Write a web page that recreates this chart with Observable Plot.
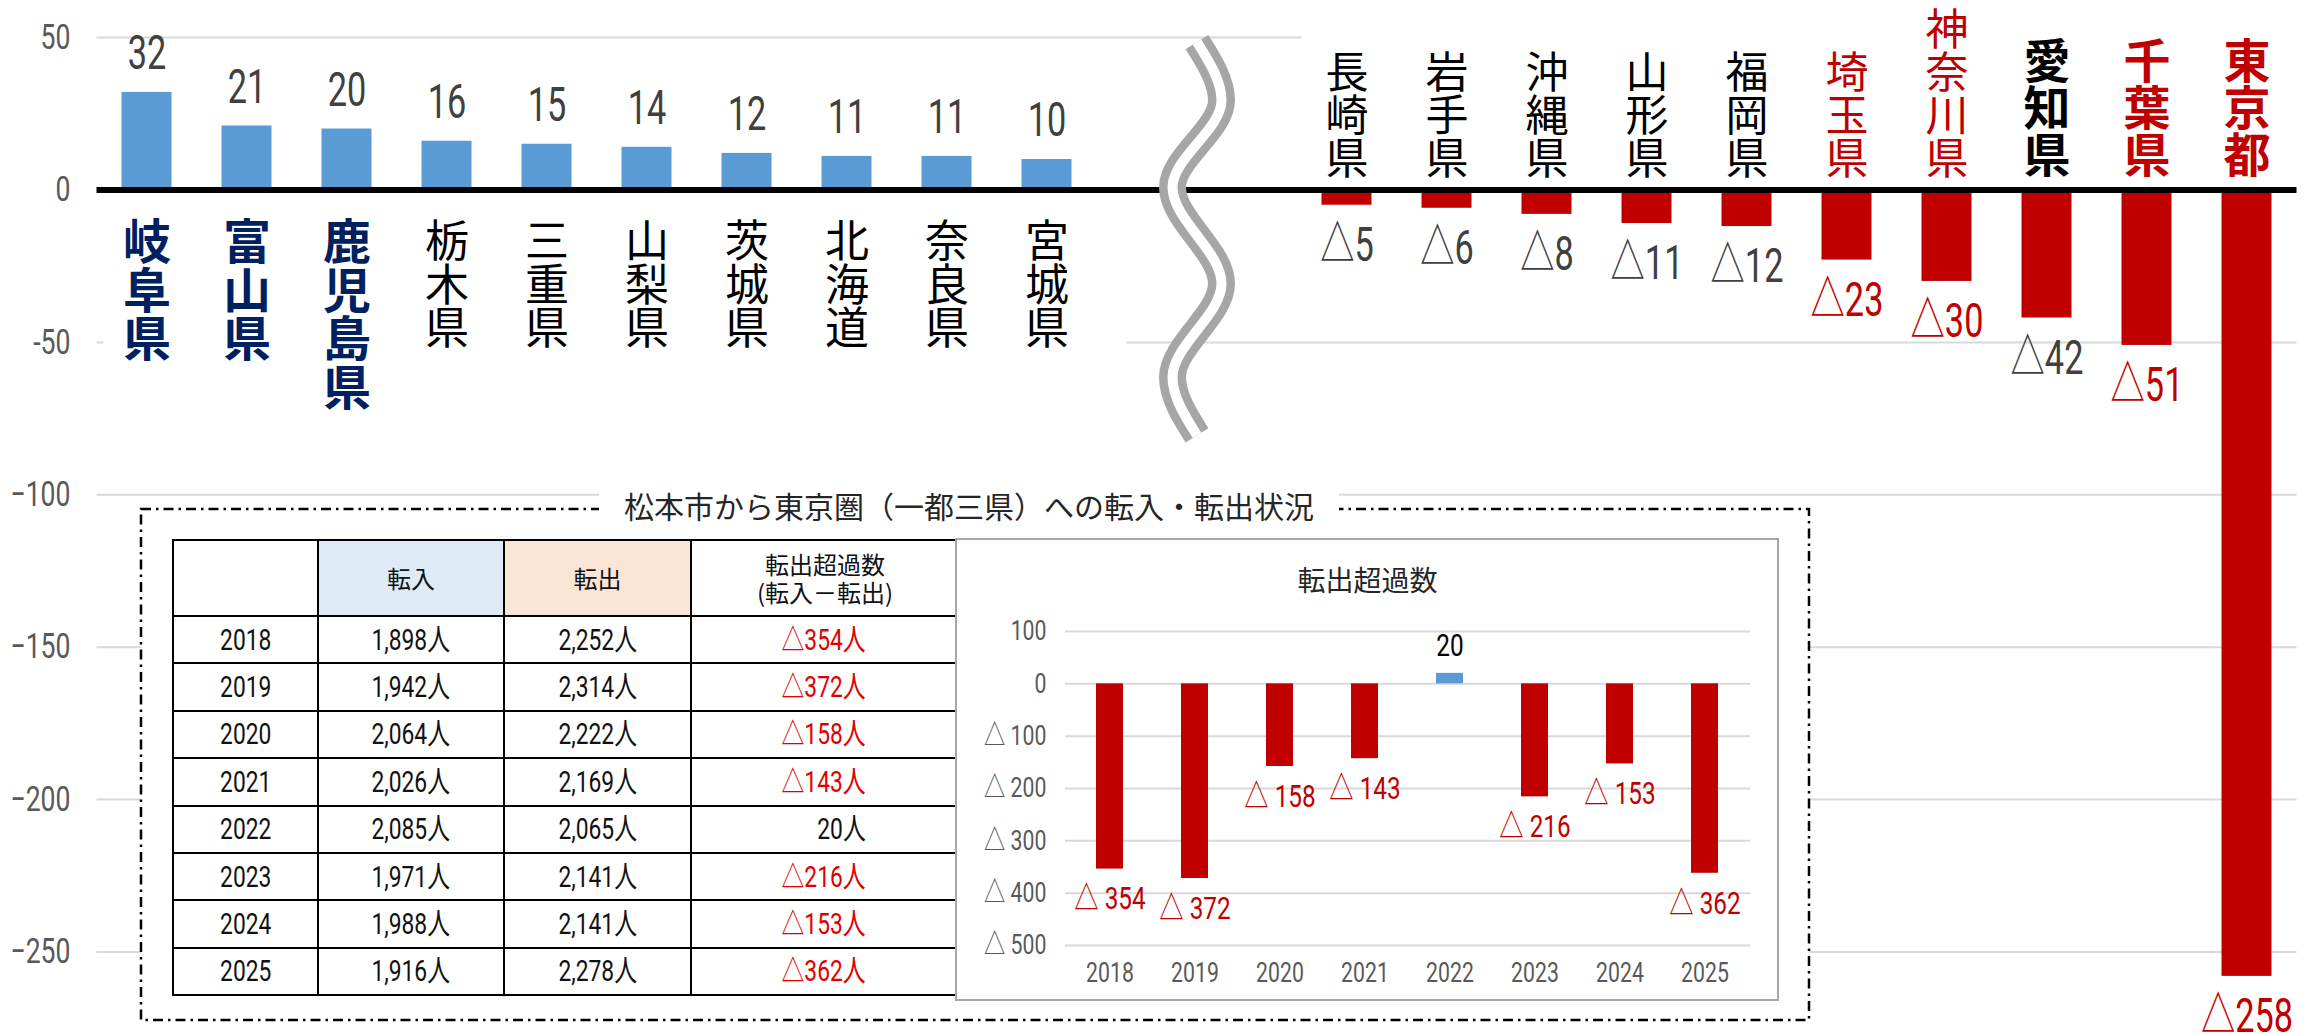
<!DOCTYPE html>
<html><head><meta charset="utf-8">
<script src="https://cdn.jsdelivr.net/npm/d3@7"></script>
<script src="https://cdn.jsdelivr.net/npm/@observablehq/plot@0.6"></script>
<style>
body{margin:0;background:#fff;}
#wrap{position:relative;width:2320px;height:1034px;overflow:hidden;font-family:"Noto Sans CJK JP",sans-serif;}
#wrap > *{position:absolute;}
#main{left:0;top:0;}
#box{left:139px;top:506.5px;}
#title{left:599px;top:485px;width:740px;height:40px;line-height:40px;background:#fff;text-align:center;font-size:30px;color:#262626;white-space:nowrap;}
#tbl{left:172px;top:539px;border-collapse:collapse;table-layout:fixed;width:786px;}
#tbl td,#tbl th{border:2.5px solid #000;padding:0;text-align:center;font-weight:normal;color:#111;white-space:nowrap;}
#tbl th{font-size:24px;line-height:28px;font-family:"Noto Sans CJK JP",sans-serif;}
#tbl td{font-size:30px;line-height:30px;font-family:Roboto,"Noto Sans CJK JP",sans-serif;}
#tbl td span{display:inline-block;transform:scaleX(0.76);transform-origin:50% 50%;}
#tbl td.net span{transform-origin:100% 50%;}
#tbl tr.h{height:76px;}
#tbl tr.r{height:47.4px;}
#tbl th.in{background:#deebf7;}
#tbl th.out{background:#fbe5d6;}
#tbl td.net{text-align:right;padding-right:92px;}
#inset{left:956px;top:539px;}
</style></head><body><div id="wrap"></div>
<script>
// ---- main chart data ----
const leftPrefs = ["岐阜県","富山県","鹿児島県","栃木県","三重県","山梨県","茨城県","北海道","奈良県","宮城県"];
const leftValues = [32,21,20,16,15,14,12,11,11,10];
const rightPrefs = ["長崎県","岩手県","沖縄県","山形県","福岡県","埼玉県","神奈川県","愛知県","千葉県","東京都"];
const rightValues = [-5,-6,-8,-11,-12,-23,-30,-42,-51,-258];
const yTicks = [50,0,-50,-100,-150,-200,-250];
const highlightLeft = ["岐阜県","富山県","鹿児島県"];
const tokyoArea = ["埼玉県","神奈川県","千葉県","東京都"];
const boldRight = ["愛知県","千葉県","東京都"];

// ---- inset data ----
const insetTitle = "松本市から東京圏（一都三県）への転入・転出状況";
const insetChartTitle = "転出超過数";
const years = ["2018","2019","2020","2021","2022","2023","2024","2025"];
const inflow = [1898,1942,2064,2026,2085,1971,1988,1916];
const outflow = [2252,2314,2222,2169,2065,2141,2141,2278];
const netOutflow = [-354,-372,-158,-143,20,-216,-153,-362];
const insetTicks = [100,0,-100,-200,-300,-400,-500];

const NUM = 'Roboto,"Noto Sans CJK JP",sans-serif';
const CJK = '"Noto Sans CJK JP",sans-serif';
const BLUE = "#5b9bd5", RED = "#c00000", GRAY = "#404040";

const wrap = document.getElementById("wrap");

const leftData = leftPrefs.map((p, i) => ({pref: p, value: leftValues[i], pos: i}));
const rightData = rightPrefs.map((p, i) => ({pref: p, value: rightValues[i], pos: i + 12}));
const allData = leftData.concat(rightData);
const vert = d => d.pref.split("").join("\n");

// horizontal squeeze of number texts (condensed look)
function squeeze(svg, selector, sx) {
  svg.querySelectorAll(selector).forEach(t => {
    const tr = t.getAttribute("transform") || "";
    t.setAttribute("transform", tr + ` scale(${sx},1)`);
  });
}

// break symbol (decorative wavy double line between the two groups)
const breakWave = [
  {o: 0, v: 48.5}, {o: 0.245, v: 29.4}, {o: -0.245, v: 0.9},
  {o: 0.245, v: -30.7}, {o: -0.245, v: -61.4}, {o: 0, v: -80.5}
];

const yFmt = v => v === 0 ? "0" : v === 50 ? "50" : v === -50 ? "-50" : "−" + Math.abs(v);

const main = Plot.plot({
  width: 2320, height: 1034,
  marginLeft: 96.5, marginRight: 23.5, marginTop: 6.6, marginBottom: 6.3,
  x: {domain: [-0.5, 21.5], axis: null},
  y: {domain: [-275, 60], axis: null},
  style: {background: "#fff", overflow: "visible"},
  marks: [
    Plot.ruleY(yTicks.filter(v => v !== 0), {stroke: "#d9d9d9", strokeWidth: 2}),
    // white text-box backings of the category labels
    Plot.rect([{a: -0.43, b: 9.8, c: -25, d: -80}, {a: 11.55, b: 21.6, c: 44, d: 56}],
      {x1: "a", x2: "b", y1: "c", y2: "d", fill: "#fff"}),
    Plot.rect(allData, {x1: d => d.pos - 0.25, x2: d => d.pos + 0.25, y1: d => 0, y2: "value",
      fill: d => d.value >= 0 ? BLUE : RED}),
    Plot.ruleY([0], {stroke: "#000", strokeWidth: 6}),
    Plot.line(breakWave, {x: d => 10.5 + d.o, y: "v", stroke: "#a6a6a6", strokeWidth: 27, curve: "monotone-y", strokeLinecap: "butt"}),
    Plot.line(breakWave, {x: d => 10.5 + d.o, y: "v", stroke: "#fff", strokeWidth: 10, curve: "monotone-y", strokeLinecap: "butt"}),
    Plot.axisY({ticks: yTicks, tickSize: 0, tickPadding: 26.5, tickFormat: yFmt, fontSize: 35,
      fontFamily: NUM, fill: "#595959", color: "#595959", className: "sqa"}),
    // value labels
    Plot.text(leftData, {x: "pos", y: "value", text: d => String(d.value), dy: -39,
      fontSize: 49, fontFamily: NUM, fill: GRAY, className: "sqv"}),
    Plot.text(rightData, {x: "pos", y: "value", text: d => "△" + (-d.value), dy: 40,
      fontSize: 49, fontFamily: NUM, fill: d => tokyoArea.includes(d.pref) ? RED : GRAY, className: "sqv"}),
    // category labels (vertical)
    Plot.text(leftData.filter(d => highlightLeft.includes(d.pref)), {x: "pos", y: d => 0, text: vert,
      lineAnchor: "top", lineHeight: 1.01, dy: 35, fontSize: 48, fontWeight: "bold", fontFamily: CJK, fill: "#002060"}),
    Plot.text(leftData.filter(d => !highlightLeft.includes(d.pref)), {x: "pos", y: d => 0, text: vert,
      lineAnchor: "top", lineHeight: 0.99, dy: 36.3, fontSize: 44, fontFamily: CJK, fill: "#000"}),
    Plot.text(rightData.filter(d => !boldRight.includes(d.pref)), {x: "pos", y: d => 0, text: vert,
      lineAnchor: "bottom", lineHeight: 1.0, dy: -15.7, fontSize: 43, fontFamily: CJK,
      fill: d => tokyoArea.includes(d.pref) ? RED : "#000"}),
    Plot.text(rightData.filter(d => boldRight.includes(d.pref)), {x: "pos", y: d => 0, text: vert,
      lineAnchor: "bottom", lineHeight: 1.0, dy: -17.5, fontSize: 47, fontWeight: "bold", fontFamily: CJK,
      fill: d => tokyoArea.includes(d.pref) ? RED : "#000"})
  ]
});
squeeze(main, "g.sqv text", 0.7);
squeeze(main, 'g.sqa text, g[aria-label="y-axis tick label"] text', 0.76);
main.id = "main";
wrap.appendChild(main);

// dash-dot framed box
const box = Plot.plot({
  width: 1671, height: 514, margin: 0,
  x: {domain: [0, 1], axis: null}, y: {domain: [0, 1], axis: null},
  style: {background: "transparent", overflow: "visible"},
  marks: [Plot.frame({fill: "#fff", stroke: "#000", strokeWidth: 2.5, strokeDasharray: "10,5,2.5,5", inset: 1.5})]
});
box.id = "box";
wrap.appendChild(box);

const title = document.createElement("div");
title.id = "title";
title.textContent = insetTitle;
wrap.appendChild(title);

// table
const fmt = d3.format(",");
const netFmt = v => (v < 0 ? "△" + (-v) : String(v)) + "人";
const tbl = d3.select(wrap).append("table").attr("id", "tbl");
const cg = tbl.append("colgroup");
[145, 186, 187, 268].forEach(w => cg.append("col").style("width", w + "px"));
const hr = tbl.append("tr").attr("class", "h");
hr.append("th");
hr.append("th").attr("class", "in").text("転入");
hr.append("th").attr("class", "out").text("転出");
hr.append("th").html("転出超過数<br>(転入－転出)");
years.forEach((y, i) => {
  const r = tbl.append("tr").attr("class", "r");
  r.append("td").append("span").text(y);
  r.append("td").append("span").text(fmt(inflow[i]) + "人");
  r.append("td").append("span").text(fmt(outflow[i]) + "人");
  r.append("td").attr("class", "net").style("color", netOutflow[i] < 0 ? "#e00000" : "#111")
    .append("span").text(netFmt(netOutflow[i]));
});

// inset bar chart
const insetData = years.map((y, i) => ({year: y, net: netOutflow[i]}));
const inset = Plot.plot({
  width: 822, height: 461,
  marginLeft: 109, marginRight: 28, marginTop: 92, marginBottom: 55,
  x: {type: "band", domain: years, paddingInner: 0.68, paddingOuter: 0.34, label: null},
  y: {domain: [-500, 100], label: null},
  style: {background: "#fff", overflow: "visible", outline: "2px solid #a6a6a6", outlineOffset: "-1px"},
  marks: [
    Plot.ruleY(insetTicks, {stroke: "#d9d9d9", strokeWidth: 2}),
    Plot.barY(insetData, {x: "year", y: "net", fill: d => d.net < 0 ? RED : BLUE}),
    Plot.text(insetData.filter(d => d.net < 0), {x: "year", y: "net", text: d => "△ " + (-d.net), dy: 30,
      fontSize: 32, fontFamily: NUM, fill: RED, className: "sqi"}),
    Plot.text(insetData.filter(d => d.net >= 0), {x: "year", y: "net", text: d => String(d.net), dy: -28,
      fontSize: 32, fontFamily: NUM, fill: "#000", className: "sqi"}),
    Plot.axisY({ticks: insetTicks, tickSize: 0, tickPadding: 19, label: null,
      tickFormat: v => v < 0 ? "△ " + (-v) : String(v), fontSize: 28, fontFamily: NUM, fill: "#595959", color: "#595959", className: "sqy"}),
    Plot.axisX({tickSize: 0, tickPadding: 17, label: null, fontSize: 28, fontFamily: NUM, fill: "#595959", color: "#595959", className: "sqx"}),
    Plot.text([insetChartTitle], {frameAnchor: "top", dy: -60, dx: -40.5, fontSize: 28, fontFamily: CJK, fill: "#262626"})
  ]
});
squeeze(inset, 'g.sqi text', 0.76);
squeeze(inset, 'g.sqy text, g[aria-label="y-axis tick label"] text', 0.76);
squeeze(inset, 'g.sqx text, g[aria-label="x-axis tick label"] text', 0.76);
inset.id = "inset";
wrap.appendChild(inset);
</script>
</body></html>
